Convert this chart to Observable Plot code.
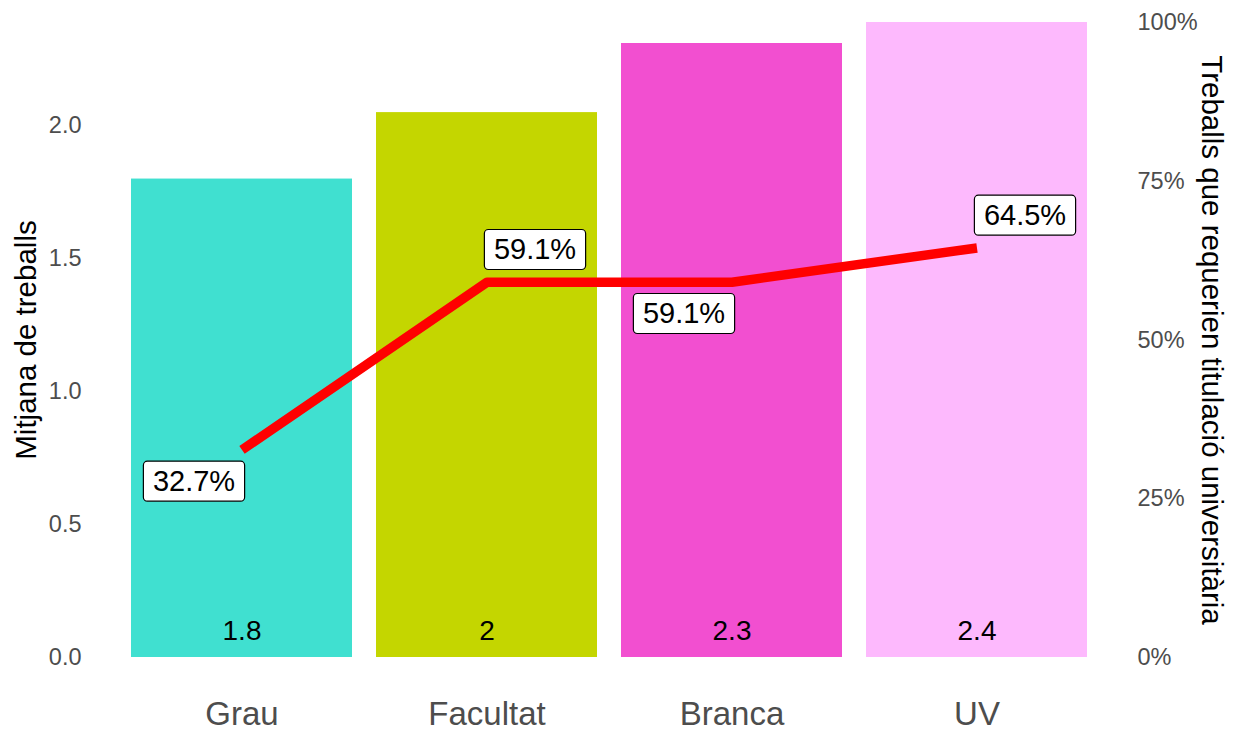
<!DOCTYPE html>
<html>
<head>
<meta charset="utf-8">
<script src="https://cdn.jsdelivr.net/npm/d3@7"></script>
<script src="https://cdn.jsdelivr.net/npm/@observablehq/plot@0.6"></script>
<style>
  html, body { margin: 0; padding: 0; background: white; }
  #chart { width: 1237px; height: 731px; }
</style>
</head>
<body>
<div id="chart"></div>
<script>
const categories = ["Grau", "Facultat", "Branca", "UV"];
const means = [1.80, 2.05, 2.31, 2.389];
const meanLabels = ["1.8", "2", "2.3", "2.4"];
const pcts = [0.327, 0.591, 0.591, 0.645];
const barColors = ["#40E0D0", "#C4D600", "#F24FD0", "#FDB9FD"];
const leftTicks = [0, 0.5, 1, 1.5, 2];
const rightTicks = [0, 0.25, 0.5, 0.75, 1];
const yTitle = "Mitjana de treballs";
const y2Title = "Treballs que requerien titulació universitària";

const M = d3.max(means);
const data = categories.map((c, i) => ({
  cat: c, mean: means[i], label: meanLabels[i], pct: pcts[i], y2: pcts[i] * M, i
}));
const fmtPct = d3.format(".1%");
const FONT = "Liberation Sans, Arial, Helvetica, sans-serif";

const chart = Plot.plot({
  width: 1237,
  height: 731,
  marginLeft: 94,
  marginRight: 113,
  marginTop: 22,
  marginBottom: 74,
  style: { fontFamily: FONT, background: "white" },
  x: { domain: categories, paddingInner: 0.1, paddingOuter: 0.15, label: null },
  y: { domain: [0, M], label: null },
  color: { domain: categories, range: barColors },
  marks: [
    Plot.barY(data, { x: "cat", y: "mean", fill: "cat" }),
    Plot.text(data, { x: "cat", y: 0.1, text: "label", fontSize: 28, fill: "black" }),
    Plot.line(data, { x: "cat", y: "y2", stroke: "red", strokeWidth: 9.5, strokeLinecap: "butt", strokeLinejoin: "round" }),
    Plot.text(data.filter(d => d.i % 2 === 0), {
      x: "cat", y: "y2", text: d => fmtPct(d.pct), dx: -48, dy: 32,
      fontSize: 29, fill: "black", className: "lbl"
    }),
    Plot.text(data.filter(d => d.i % 2 === 1), {
      x: "cat", y: "y2", text: d => fmtPct(d.pct), dx: 48, dy: -32,
      fontSize: 29, fill: "black", className: "lbl"
    }),
    Plot.axisX({ tickSize: 0, tickPadding: 44, fontSize: 33, color: "#4D4D4D", label: null }),
    Plot.axisY({ ticks: leftTicks, tickSize: 0, tickPadding: 13, fontSize: 23.5, color: "#4D4D4D",
      tickFormat: d3.format(".1f"), label: null }),
    Plot.axisY({ anchor: "right", ticks: rightTicks.map(t => t * M), tickSize: 0, tickPadding: 13,
      fontSize: 23.5, color: "#4D4D4D", tickFormat: v => Math.round(v / M * 100) + "%", label: null }),
    Plot.text([yTitle], { frameAnchor: "left", textAnchor: "middle", dx: -68, rotate: -90, text: d => d, fontSize: 29.5, fill: "black" }),
    Plot.text([y2Title], { frameAnchor: "right", textAnchor: "middle", dx: 87, rotate: 90, text: d => d, fontSize: 29.5, fill: "black" })
  ]
});

document.getElementById("chart").appendChild(chart);

// draw label boxes behind the percentage labels
chart.querySelectorAll("g.lbl text").forEach(t => {
  const b = t.getBBox();
  const w = b.width + 19, h = 40;
  const cx = b.x + b.width / 2, cy = b.y + b.height / 2;
  const r = document.createElementNS("http://www.w3.org/2000/svg", "rect");
  r.setAttribute("x", cx - w / 2);
  r.setAttribute("y", cy - h / 2);
  r.setAttribute("width", w);
  r.setAttribute("height", h);
  r.setAttribute("rx", 4);
  r.setAttribute("fill", "white");
  r.setAttribute("stroke", "black");
  r.setAttribute("stroke-width", 1.2);
  if (t.getAttribute("transform")) r.setAttribute("transform", t.getAttribute("transform"));
  t.parentNode.insertBefore(r, t);
});
</script>
</body>
</html>
